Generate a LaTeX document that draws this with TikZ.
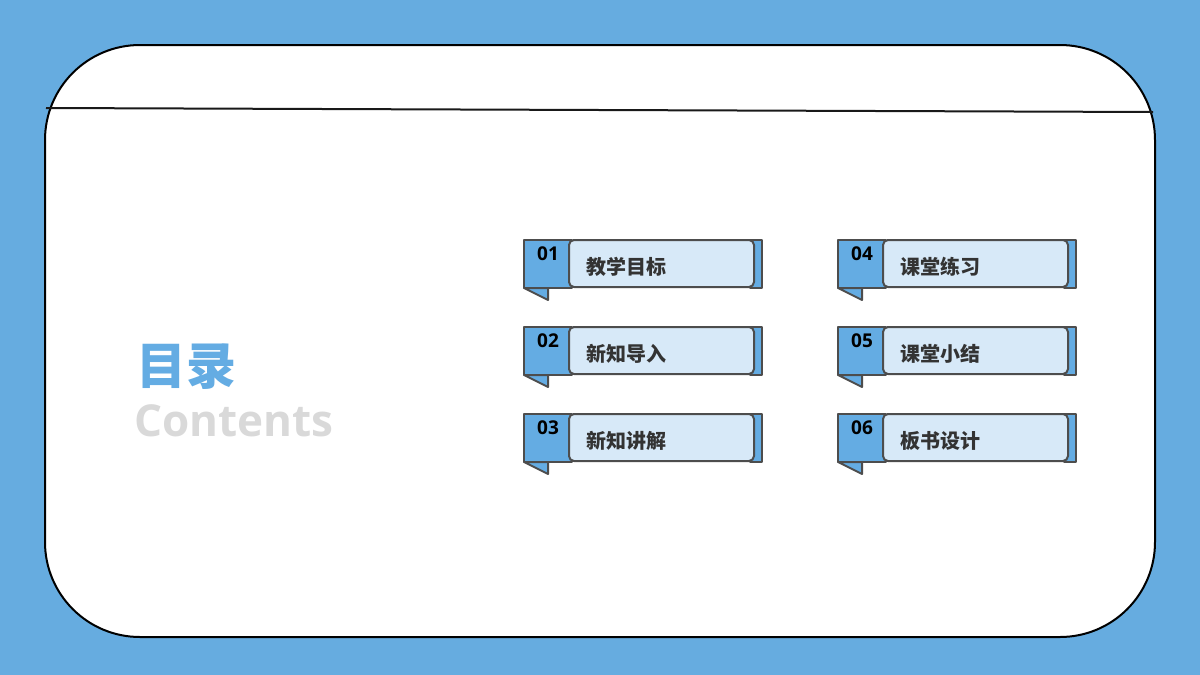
\documentclass[tikz,border=0pt]{standalone}
\usepackage{fontspec}
\newfontfamily\cjk{Noto Sans CJK SC}
\newfontfamily\latinb{Open Sans}
\definecolor{bgblue}{HTML}{66ACE0}
\definecolor{tabblue}{HTML}{64ACE3}
\definecolor{lightbox}{HTML}{D7E9F8}
\definecolor{edge}{HTML}{4D4D4D}
\definecolor{txt}{HTML}{333333}
\definecolor{contentsgray}{HTML}{D9D9D9}
\tikzset{
  tabshape/.style={fill=tabblue,draw=edge,line width=2pt,line join=round},
  boxshape/.style={fill=lightbox,draw=edge,line width=2pt,rounded corners=5pt},
  numtext/.style={font=\latinb\bfseries\fontsize{19}{19}\selectfont,text=black,inner sep=0pt},
  labeltext/.style={font=\cjk\bfseries\fontsize{20}{20}\selectfont,text=txt,inner sep=0pt,anchor=west},
}
\newcommand\tocitem[5]{%
  \begin{scope}[shift={(#1,#2)}]
    \draw[tabshape] (0,0) rectangle (48,48);
    \draw[tabshape] (0,48) -- (24,60) -- (24,48) -- cycle;
    \draw[tabshape] (226,0) rectangle (238,48);
    \draw[boxshape] (45,0) rectangle (230,47);
    \node[numtext] (n#5) at (24,14) {#3};
    \node[labeltext] (l#5) at (62,27) {#4};
  \end{scope}}
\begin{document}
\begin{tikzpicture}[x=1pt,y=-1pt]
\fill[bgblue] (0,0) rectangle (1200,675);
\useasboundingbox (0,0) rectangle (1200,675);
\draw[fill=white,line width=2pt,rounded corners=95pt] (45,45) rectangle (1155,637);
\coordinate (la) at (46,108);
\coordinate (lb) at (1153,112);
\draw[line width=2pt,black!90] (la) -- (lb);
\node[font=\cjk\bfseries\fontsize{50}{50}\selectfont,text=tabblue,anchor=west,inner sep=0pt] (title) at (136,367) {目录};
\node[font=\latinb\bfseries\fontsize{44}{44}\selectfont,text=contentsgray,anchor=west,inner sep=0pt] (contents) at (134,421) {Contents};
\tocitem{524}{240}{01}{教学目标}{a}
\tocitem{524}{327}{02}{新知导入}{b}
\tocitem{524}{414}{03}{新知讲解}{c}
\tocitem{838}{240}{04}{课堂练习}{d}
\tocitem{838}{327}{05}{课堂小结}{e}
\tocitem{838}{414}{06}{板书设计}{f}
\end{tikzpicture}
\end{document}
